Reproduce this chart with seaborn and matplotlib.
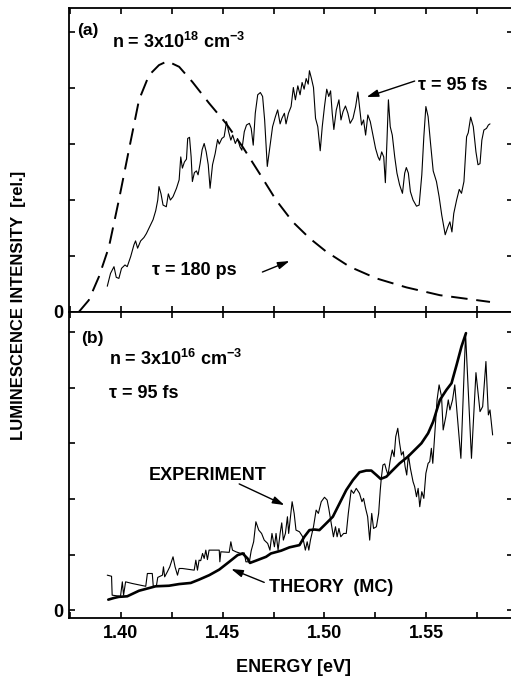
import numpy as np
import pandas as pd
import matplotlib
matplotlib.use("Agg")
import matplotlib.pyplot as plt
import seaborn as sns

# %% data (intensity in units of the y tick spacing)
# (a) n = 3x10^18 cm^-3, tau = 180 ps (dashed)
e_slow = [1.3793, 1.3842, 1.3892, 1.3941, 1.3990, 1.4039, 1.4089, 1.4138, 1.4187,
          1.4228, 1.4286, 1.4351, 1.4433, 1.4516, 1.4598, 1.4680, 1.4762, 1.4844,
          1.4926, 1.5008, 1.5123, 1.5255, 1.5402, 1.5567, 1.5813]
i_slow = [0.00, 0.21, 0.63, 1.16, 2.00, 2.89, 3.79, 4.23, 4.41,
          4.48, 4.38, 4.11, 3.73, 3.37, 2.95, 2.48, 2.00, 1.61,
          1.32, 1.08, 0.81, 0.60, 0.44, 0.30, 0.18]

# (a) tau = 95 fs (thin solid)
e_fast = [1.3933, 1.3949, 1.3966, 1.3977, 1.3990, 1.4003, 1.4020, 1.4031, 1.4048, 1.4064,
          1.4072, 1.4082, 1.4097, 1.4113, 1.4125, 1.4141, 1.4158, 1.4171, 1.4181, 1.4187,
          1.4197, 1.4207, 1.4223, 1.4233, 1.4243, 1.4256, 1.4273, 1.4286, 1.4294, 1.4302,
          1.4312, 1.4322, 1.4328, 1.4337, 1.4345, 1.4351, 1.4361, 1.4371, 1.4379, 1.4389,
          1.4399, 1.4409, 1.4419, 1.4429, 1.4438, 1.4450, 1.4463, 1.4475, 1.4483, 1.4496,
          1.4507, 1.4519, 1.4529, 1.4540, 1.4549, 1.4562, 1.4573, 1.4585, 1.4594, 1.4606,
          1.4617, 1.4631, 1.4640, 1.4650, 1.4660, 1.4672, 1.4685, 1.4696, 1.4706, 1.4719,
          1.4732, 1.4745, 1.4759, 1.4770, 1.4782, 1.4791, 1.4803, 1.4811, 1.4823, 1.4836,
          1.4847, 1.4857, 1.4869, 1.4880, 1.4890, 1.4900, 1.4910, 1.4920, 1.4926, 1.4936,
          1.4946, 1.4956, 1.4967, 1.4979, 1.4989, 1.5000, 1.5011, 1.5021, 1.5030, 1.5038,
          1.5046, 1.5058, 1.5071, 1.5081, 1.5091, 1.5103, 1.5115, 1.5126, 1.5140, 1.5153,
          1.5164, 1.5172, 1.5182, 1.5192, 1.5202, 1.5213, 1.5225, 1.5238, 1.5251, 1.5263,
          1.5271, 1.5281, 1.5291, 1.5299, 1.5307, 1.5314, 1.5323, 1.5333, 1.5345, 1.5356,
          1.5369, 1.5383, 1.5394, 1.5402, 1.5412, 1.5422, 1.5435, 1.5452, 1.5465, 1.5478,
          1.5488, 1.5498, 1.5509, 1.5521, 1.5534, 1.5550, 1.5563, 1.5576, 1.5593, 1.5606,
          1.5616, 1.5626, 1.5635, 1.5649, 1.5662, 1.5673, 1.5685, 1.5698, 1.5706, 1.5718,
          1.5731, 1.5744, 1.5754, 1.5764, 1.5773, 1.5783, 1.5796, 1.5805, 1.5813]
i_fast = [0.46, 0.69, 0.81, 0.62, 0.60, 0.78, 0.84, 0.81, 0.99, 1.20,
          1.27, 1.14, 1.27, 1.33, 1.40, 1.52, 1.65, 1.81, 2.00, 2.24,
          2.11, 1.91, 1.88, 2.11, 2.00, 2.06, 2.21, 2.36, 2.77, 2.57,
          2.68, 2.73, 3.10, 3.12, 2.77, 2.33, 2.49, 2.52, 2.45, 2.65,
          2.90, 3.01, 2.86, 2.63, 2.21, 2.63, 2.83, 3.08, 3.00, 3.10,
          3.13, 3.40, 3.22, 3.07, 3.16, 3.01, 3.10, 2.95, 2.89, 3.22,
          3.34, 3.37, 3.28, 2.98, 3.55, 3.88, 3.92, 3.85, 3.43, 2.60,
          2.95, 3.31, 3.49, 3.61, 3.36, 3.46, 3.55, 3.36, 3.55, 3.67,
          4.01, 3.79, 4.04, 3.88, 4.10, 3.98, 4.17, 4.07, 4.31, 4.17,
          4.01, 3.46, 3.31, 2.88, 3.31, 3.67, 3.98, 3.85, 3.95, 3.55,
          3.26, 3.61, 3.79, 3.43, 3.58, 3.68, 3.55, 3.37, 3.46, 3.67,
          3.93, 3.67, 3.34, 3.43, 3.16, 3.52, 3.40, 3.16, 2.92, 2.77,
          2.71, 2.86, 2.77, 2.31, 3.07, 3.79, 3.31, 3.16, 2.77, 2.48,
          2.27, 2.12, 2.48, 2.58, 2.48, 2.15, 2.00, 1.89, 1.91, 2.45,
          3.13, 3.67, 3.49, 3.01, 2.52, 2.33, 2.06, 1.73, 1.38, 1.52,
          1.61, 1.43, 1.76, 2.00, 2.19, 2.12, 2.33, 3.13, 3.20, 3.48,
          3.31, 2.86, 2.63, 2.65, 3.07, 3.25, 3.28, 3.34, 3.36]

# (b) n = 3x10^16 cm^-3, experiment (thin solid)
e_exp = [1.3933, 1.3954, 1.3957, 1.3998, 1.4007, 1.4013, 1.4023, 1.4056, 1.4122, 1.4130,
         1.4154, 1.4159, 1.4174, 1.4181, 1.4204, 1.4209, 1.4215, 1.4228, 1.4240, 1.4256,
         1.4266, 1.4278, 1.4286, 1.4302, 1.4360, 1.4368, 1.4376, 1.4384, 1.4392, 1.4401,
         1.4409, 1.4417, 1.4425, 1.4433, 1.4483, 1.4486, 1.4491, 1.4532, 1.4540, 1.4548,
         1.4565, 1.4589, 1.4606, 1.4614, 1.4631, 1.4640, 1.4652, 1.4663, 1.4677, 1.4691,
         1.4704, 1.4721, 1.4732, 1.4742, 1.4754, 1.4762, 1.4772, 1.4782, 1.4790, 1.4798,
         1.4808, 1.4818, 1.4824, 1.4841, 1.4851, 1.4860, 1.4877, 1.4893, 1.4906, 1.4915,
         1.4923, 1.4931, 1.4946, 1.4959, 1.4970, 1.4984, 1.5000, 1.5013, 1.5021, 1.5033,
         1.5044, 1.5054, 1.5062, 1.5071, 1.5080, 1.5094, 1.5107, 1.5117, 1.5131, 1.5143,
         1.5156, 1.5172, 1.5184, 1.5192, 1.5202, 1.5212, 1.5222, 1.5232, 1.5241, 1.5255,
         1.5266, 1.5274, 1.5279, 1.5287, 1.5296, 1.5304, 1.5312, 1.5323, 1.5333, 1.5342,
         1.5350, 1.5360, 1.5369, 1.5378, 1.5387, 1.5396, 1.5404, 1.5412, 1.5422, 1.5435,
         1.5443, 1.5452, 1.5460, 1.5468, 1.5478, 1.5488, 1.5498, 1.5509, 1.5517, 1.5525,
         1.5532, 1.5542, 1.5553, 1.5563, 1.5575, 1.5583, 1.5596, 1.5608, 1.5616, 1.5629,
         1.5640, 1.5652, 1.5670, 1.5693, 1.5722, 1.5744, 1.5764, 1.5777, 1.5793, 1.5805,
         1.5813, 1.5826]
i_exp = [0.63, 0.61, 0.27, 0.25, 0.51, 0.27, 0.51, 0.48, 0.43, 0.66,
         0.66, 0.43, 0.43, 0.59, 0.63, 0.78, 0.60, 0.69, 0.78, 0.96,
         0.78, 0.63, 0.75, 0.75, 0.72, 0.90, 0.72, 0.90, 0.89, 1.02,
         0.93, 1.08, 0.91, 1.08, 1.08, 0.87, 1.05, 1.04, 1.23, 1.08,
         1.05, 1.02, 1.03, 0.87, 0.87, 1.07, 1.23, 1.59, 1.44, 1.38,
         1.26, 1.20, 1.08, 1.38, 1.14, 1.38, 1.08, 1.38, 1.57, 1.26,
         1.38, 1.68, 1.38, 1.95, 1.74, 1.44, 1.41, 1.32, 1.08, 1.23,
         1.08, 1.26, 1.50, 1.80, 1.74, 1.95, 2.03, 1.98, 1.83, 1.56,
         1.32, 1.50, 1.32, 1.47, 1.32, 1.38, 1.38, 1.74, 2.16, 2.10,
         2.19, 2.10, 1.95, 2.01, 1.83, 1.68, 1.26, 1.74, 1.47, 1.50,
         1.74, 2.16, 2.37, 2.61, 2.63, 2.52, 2.43, 2.70, 2.88, 2.76,
         3.12, 3.27, 3.00, 2.79, 2.85, 2.58, 2.43, 2.79, 2.55, 2.31,
         2.22, 2.04, 2.19, 1.86, 2.13, 2.01, 2.46, 2.64, 2.67, 2.91,
         2.64, 3.18, 3.78, 4.05, 3.84, 3.24, 3.48, 3.78, 3.60, 3.78,
         4.05, 3.51, 2.73, 4.97, 2.73, 4.27, 3.57, 3.66, 4.47, 3.51,
         3.60, 3.15]

# (b) theory (MC) (thick solid)
e_mc = [1.3938, 1.3966, 1.3990, 1.4031, 1.4089, 1.4171, 1.4236, 1.4286, 1.4343, 1.4384,
        1.4434, 1.4483, 1.4532, 1.4573, 1.4598, 1.4622, 1.4634, 1.4663, 1.4713, 1.4737,
        1.4787, 1.4828, 1.4877, 1.4901, 1.4926, 1.4951, 1.4975, 1.5000, 1.5041, 1.5074,
        1.5107, 1.5140, 1.5172, 1.5205, 1.5230, 1.5255, 1.5276, 1.5304, 1.5328, 1.5369,
        1.5410, 1.5476, 1.5509, 1.5534, 1.5567, 1.5599, 1.5624, 1.5649, 1.5673, 1.5695]
i_mc = [0.19, 0.22, 0.24, 0.25, 0.35, 0.43, 0.44, 0.47, 0.49, 0.55,
        0.63, 0.73, 0.87, 0.99, 1.02, 0.93, 0.85, 0.89, 0.96, 1.02,
        1.07, 1.13, 1.17, 1.32, 1.44, 1.45, 1.44, 1.53, 1.68, 1.92,
        2.16, 2.34, 2.48, 2.51, 2.51, 2.43, 2.36, 2.40, 2.49, 2.64,
        2.76, 3.00, 3.18, 3.39, 3.78, 3.96, 4.08, 4.41, 4.74, 4.98]

x_ticks = [1.375, 1.400, 1.425, 1.450, 1.475, 1.500, 1.525, 1.550, 1.575]
x_ticklabels = ["", "1.40", "", "1.45", "", "1.50", "", "1.55", ""]
y_ticks = [0, 1, 2, 3, 4, 5]
y_ticklabels = ["0", "", "", "", "", ""]

# %% style
sns.set_style("ticks")
plt.rcParams['font.family'] = ['Liberation Sans', 'DejaVu Sans']
plt.rcParams['font.weight'] = 'bold'
plt.rcParams['mathtext.fontset'] = 'custom'
plt.rcParams['mathtext.rm'] = 'Liberation Sans:bold'
plt.rcParams['mathtext.bf'] = 'Liberation Sans:bold'
plt.rcParams['mathtext.it'] = 'Liberation Sans:bold'
plt.rcParams['mathtext.default'] = 'bf'
plt.rcParams['axes.linewidth'] = 1.3
plt.rcParams['axes.edgecolor'] = 'black'
plt.rcParams['text.color'] = 'black'
plt.rcParams['axes.labelcolor'] = 'black'
plt.rcParams['xtick.color'] = 'black'
plt.rcParams['ytick.color'] = 'black'

fs = 13
fig = plt.figure(figsize=(5.11, 6.79), dpi=100)
W, H = 511, 679
# right spine sits just past the image edge, as in the original scan
ax1 = fig.add_axes([69 / W, 1 - 312 / H, (513 - 69) / W, 304 / H])
ax2 = fig.add_axes([69 / W, 1 - 618 / H, (513 - 69) / W, 306 / H])

top = pd.DataFrame({'energy': e_fast, 'intensity': i_fast})
slow = pd.DataFrame({'energy': e_slow, 'intensity': i_slow})
exp_df = pd.DataFrame({'energy': e_exp, 'intensity': i_exp})
mc_df = pd.DataFrame({'energy': e_mc, 'intensity': i_mc})

sns.lineplot(data=slow, x='energy', y='intensity', sort=False, estimator=None,
             color='black', lw=1.4, linestyle=(0, (8.5, 4.5)), ax=ax1)
sns.lineplot(data=top, x='energy', y='intensity', sort=False, estimator=None,
             color='black', lw=0.8, ax=ax1)
sns.lineplot(data=exp_df, x='energy', y='intensity', sort=False, estimator=None,
             color='black', lw=0.8, ax=ax2)
sns.lineplot(data=mc_df, x='energy', y='intensity', sort=False, estimator=None,
             color='black', lw=1.9, ax=ax2)

for ax in (ax1, ax2):
    ax.set_xlim(1.3745, 1.5926)
    ax.set_xticks(x_ticks)
    ax.set_yticks(y_ticks)
    ax.set_yticklabels(y_ticklabels)
    ax.tick_params(direction='in', length=4, width=1.2, top=True, right=True,
                   labelsize=fs, pad=5)
    ax.tick_params(axis='y', pad=4)
    ax.set_xlabel('')
    ax.set_ylabel('')
    for lab in ax.get_xticklabels() + ax.get_yticklabels():
        lab.set_fontweight('bold')

ax1.set_ylim(0, 5.43)
ax1.set_xticklabels([])
ax2.set_ylim(-0.14, 5.36)
ax2.set_xticklabels(x_ticklabels)
ax2.set_xlabel('ENERGY [eV]', fontsize=fs, fontweight='bold')
ax2.xaxis.label.set_va('center')
ax2.xaxis.set_label_coords((293 - 69) / (513 - 69), -49 / 306)
fig.text(0.037, 1 - 305 / H, 'LUMINESCENCE INTENSITY  [rel.]', rotation=90,
         ha='center', va='center', fontsize=12, fontweight='bold')

arrow = dict(arrowstyle='-|>,head_length=0.7,head_width=0.22', color='black',
             lw=1.0, shrinkA=0, shrinkB=0)

# panel (a) annotations
ax1.text(1.3783, 5.02, '(a)', fontsize=12.5, fontweight='bold', va='center')
ax1.text(1.3956, 4.71, r'n = 3x10$^{18}$ cm$^{-3}$', fontsize=fs, fontweight='bold')
ax1.text(1.5458, 3.96, 'τ = 95 fs', fontsize=fs, fontweight='bold')
ax1.annotate('', xy=(1.5207, 3.84), xytext=(1.5443, 4.125), arrowprops=arrow)
ax1.text(1.4153, 0.66, 'τ = 180 ps', fontsize=fs, fontweight='bold')
ax1.annotate('', xy=(1.4828, 0.91), xytext=(1.4695, 0.714), arrowprops=arrow)

# panel (b) annotations
ax2.text(1.3803, 4.89, '(b)', fontsize=12.5, fontweight='bold', va='center')
ax2.text(1.3941, 4.41, r'n = 3x10$^{16}$ cm$^{-3}$', fontsize=fs, fontweight='bold')
ax2.text(1.3941, 3.81, 'τ = 95 fs', fontsize=fs, fontweight='bold')
ax2.text(1.4138, 2.34, 'EXPERIMENT', fontsize=fs, fontweight='bold')
ax2.annotate('', xy=(1.4803, 1.89), xytext=(1.4581, 2.27), arrowprops=arrow)
ax2.text(1.4729, 0.32, 'THEORY  (MC)', fontsize=fs, fontweight='bold')
ax2.annotate('', xy=(1.4542, 0.74), xytext=(1.4704, 0.50), arrowprops=arrow)

fig.savefig('out.png', dpi=100)
